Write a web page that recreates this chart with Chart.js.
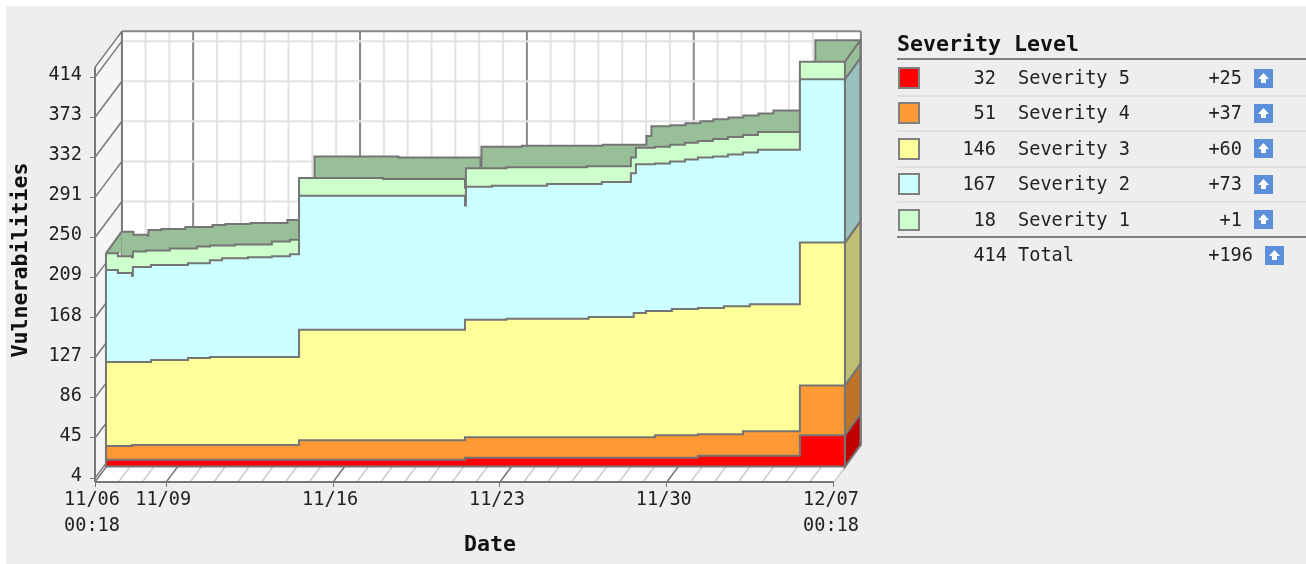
<!DOCTYPE html>
<html>
<head>
<meta charset="utf-8">
<title>Vulnerabilities</title>
<script src="https://cdn.jsdelivr.net/npm/chart.js@4/dist/chart.umd.min.js"></script>
<style>
    html, body { margin: 0; padding: 0; background: #fff; overflow: hidden; }
    #panel { position: absolute; left: 6px; top: 6px; width: 1300px; height: 558px; background: #eeeeee; }
    #grafica { position: absolute; left: 0; top: 0; }
    .txt { position: absolute; font-family: "DejaVu Sans Mono", monospace; font-size: 18.6px; color: #222; white-space: pre; line-height: 24px; }
    .linea { position: absolute; left: 897px; width: 409px; }
    .caja { position: absolute; left: 898px; width: 18px; height: 18px; border: 2px solid #808080; }
    .icono { position: absolute; width: 19px; height: 19px; }
</style>
</head>
<body>
<div id="panel"></div>
<canvas id="grafica" width="1306" height="564"></canvas>
<div id="leyenda"></div>
<script>
// days since 11/06 00:18, tops of the stacked layers
const sev5Days = [0, 15.06, 24.83, 29.11, 31];
const sev5Top = [7, 9, 11, 32, 32];
const sev4Days = [0, 1.09, 8.1, 15.06, 23.03, 24.83, 26.72, 29.11, 31];
const sev4Top = [21, 22, 27, 30, 32, 33, 36, 83, 83];
const sev3Days = [0, 1.89, 3.44, 4.36, 8.1, 15.06, 16.8, 20.25, 22.14, 22.65, 23.74, 24.83, 25.92, 27.01, 29.11, 31];
const sev3Top = [107, 109, 111, 112, 140, 150, 151, 153, 157, 159, 161, 162, 164, 166, 229, 229];
const sev2Days = [0, 0.5, 1.09, 1.13, 1.89, 3.44, 4.36, 4.87, 5.96, 6.96, 7.72, 8.1, 15.06, 15.1, 16.19, 18.5, 20.8, 22.02, 22.23, 23.03, 23.66, 24.29, 24.83, 25.46, 26.09, 26.72, 27.35, 29.11, 31];
const sev2Top = [201, 198, 195, 204, 206, 208, 211, 213, 214, 215, 217, 277, 267, 286, 287, 289, 291, 300, 309, 310, 312, 314, 316, 317, 319, 321, 324, 396, 396];
const sev1Days = [0, 0.5, 1.09, 1.13, 1.68, 2.68, 3.82, 4.36, 5.41, 6.96, 7.72, 8.1, 11.62, 15.06, 15.1, 16.8, 20.18, 22.02, 22.23, 23.03, 23.66, 24.29, 24.83, 25.46, 26.09, 26.72, 27.35, 29.11, 31];
const sev1Top = [218, 215, 214, 220, 221, 223, 225, 226, 227, 230, 232, 295, 294, 285, 305, 306, 307, 316, 326, 327, 329, 331, 333, 335, 337, 339, 342, 414, 414];

const yTicks = [4, 45, 86, 127, 168, 209, 250, 291, 332, 373, 414];
const xTicks = [0, 2.9875, 9.9875, 16.9875, 23.9875, 31];
const xLabels = [['11/06', '00:18'], '11/09', '11/16', '11/23', '11/30', ['12/07', '00:18']];
const dayLines = [0, 0.9875, 1.9875, 2.9875, 3.9875, 4.9875, 5.9875, 6.9875, 7.9875, 8.9875, 9.9875, 10.9875, 11.9875, 12.9875, 13.9875, 14.9875, 15.9875, 16.9875, 17.9875, 18.9875, 19.9875, 20.9875, 21.9875, 22.9875, 23.9875, 24.9875, 25.9875, 26.9875, 27.9875, 28.9875, 29.9875, 31];

const names = ['Severity 5', 'Severity 4', 'Severity 3', 'Severity 2', 'Severity 1'];
const counts = [32, 51, 146, 167, 18];
const deltas = ['+25', '+37', '+60', '+73', '+1'];
const colores = ['#ff0000', '#ff9933', '#ffff99', '#ccffff', '#ccffcc'];
const lados = ['#c00000', '#bf7326', '#bfbf73', '#99bfbf', '#99bf99'];

const fuente = '"DejaVu Sans Mono", monospace';
const gris = '#757575';
// depth of the fake 3D, in data units
const frontDx = 0.46, frontDy = 15.8;
const backDx = 0.65, backDy = 22;
const wallDx = 1.13, wallDy = 36.8;
const axisTop = 424;

function puntos(dias, tops, dx, dy) {
    return dias.map((d, i) => ({ x: d + dx, y: tops[i] + dy }));
}

function capa(dias, tops, color, dx, dy) {
    return {
        data: puntos(dias, tops, dx, dy),
        stepped: true,
        fill: { value: dy },
        backgroundColor: color,
        borderColor: gris,
        borderWidth: 2,
        pointRadius: 0,
        clip: false
    };
}

const plano = {
    id: 'plano',
    beforeDatasetsDraw(chart) {
        const ctx = chart.ctx;
        const X = chart.scales.x, Y = chart.scales.y;
        const px = (d, v) => [X.getPixelForValue(d), Y.getPixelForValue(v)];
        const poli = (pts, fill, stroke, w) => {
            ctx.beginPath();
            pts.forEach((p, i) => i ? ctx.lineTo(p[0], p[1]) : ctx.moveTo(p[0], p[1]));
            ctx.closePath();
            if (fill) { ctx.fillStyle = fill; ctx.fill(); }
            if (stroke) { ctx.strokeStyle = stroke; ctx.lineWidth = w; ctx.stroke(); }
        };
        const raya = (a, b, color, w) => {
            ctx.beginPath();
            ctx.moveTo(a[0], a[1]);
            ctx.lineTo(b[0], b[1]);
            ctx.strokeStyle = color;
            ctx.lineWidth = w;
            ctx.stroke();
        };
        // walls and floor
        poli([px(0, 0), px(wallDx, wallDy), px(wallDx, axisTop + wallDy), px(0, axisTop)], '#f5f5f5');
        poli([px(wallDx, wallDy), px(31 + wallDx, wallDy), px(31 + wallDx, axisTop + wallDy), px(wallDx, axisTop + wallDy)], '#ffffff');
        poli([px(0, 0), px(31, 0), px(31 + wallDx, wallDy), px(wallDx, wallDy)], '#ffffff');
        // day lines on floor and back wall, weekly ones darker
        dayLines.forEach(d => {
            const fuerte = xTicks.includes(d) && d !== 31;
            raya(px(d, 0), px(d + wallDx, wallDy), fuerte ? '#777777' : '#cccccc', 1.5);
            if (d > 0 && d < 31) raya(px(d + wallDx, wallDy), px(d + wallDx, axisTop + wallDy), fuerte ? '#888888' : '#e2e2e2', 2);
        });
        yTicks.forEach(v => {
            raya(px(wallDx, v + wallDy), px(31 + wallDx, v + wallDy), '#e2e2e2', 2);
            raya(px(0, v), px(wallDx, v + wallDy), '#777777', 1.5);
        });
        // top and outer edges of the box
        raya(px(0, axisTop), px(wallDx, axisTop + wallDy), '#777777', 1.5);
        raya(px(wallDx, axisTop + wallDy), px(31 + wallDx, axisTop + wallDy), '#888888', 2);
        raya(px(wallDx, wallDy), px(wallDx, axisTop + wallDy), '#777777', 2);
        raya(px(31 + wallDx, wallDy), px(31 + wallDx, axisTop + wallDy), '#888888', 2);
        raya(px(0, 0), px(0, axisTop), '#777777', 2);
        raya(px(0, 0), px(31, 0), '#777777', 2);
        // top face at the left end of the total
        const d0 = frontDx, v0 = sev1Top[0] + frontDy;
        poli([px(d0, v0), px(d0 + backDx, v0 + backDy), px(d0 + backDx, v0)], lados[4]);
        raya(px(d0, v0), px(d0 + backDx, v0 + backDy), gris, 2);
    },
    afterDatasetsDraw(chart) {
        const ctx = chart.ctx;
        const X = chart.scales.x, Y = chart.scales.y;
        const px = (d, v) => [X.getPixelForValue(d), Y.getPixelForValue(v)];
        const fin = 31 + frontDx;
        const finales = [0, sev5Top[sev5Top.length - 1], sev4Top[sev4Top.length - 1], sev3Top[sev3Top.length - 1], sev2Top[sev2Top.length - 1], sev1Top[sev1Top.length - 1]];
        ctx.lineWidth = 2;
        ctx.strokeStyle = gris;
        // side faces on the right
        for (let i = 0; i < 5; i++) {
            const a = finales[i] + frontDy, b = finales[i + 1] + frontDy;
            const pts = [px(fin, a), px(fin + backDx, a + backDy), px(fin + backDx, b + backDy), px(fin, b)];
            ctx.beginPath();
            pts.forEach((p, j) => j ? ctx.lineTo(p[0], p[1]) : ctx.moveTo(p[0], p[1]));
            ctx.closePath();
            ctx.fillStyle = lados[i];
            ctx.fill();
            ctx.stroke();
        }
        // frame of the front plane
        const marco = [px(frontDx, sev1Top[0] + frontDy), px(frontDx, frontDy), px(fin, frontDy), px(fin, finales[5] + frontDy)];
        ctx.beginPath();
        marco.forEach((p, j) => j ? ctx.lineTo(p[0], p[1]) : ctx.moveTo(p[0], p[1]));
        ctx.stroke();
    }
};

new Chart(document.getElementById('grafica'), {
    type: 'line',
    data: {
        datasets: [
            capa(sev5Days, sev5Top, colores[0], frontDx, frontDy),
            capa(sev4Days, sev4Top, colores[1], frontDx, frontDy),
            capa(sev3Days, sev3Top, colores[2], frontDx, frontDy),
            capa(sev2Days, sev2Top, colores[3], frontDx, frontDy),
            capa(sev1Days, sev1Top, colores[4], frontDx, frontDy),
            capa(sev1Days, sev1Top, lados[4], frontDx + backDx, frontDy + backDy)
        ]
    },
    options: {
        responsive: false,
        animation: false,
        layout: { padding: { left: 0, top: 38, right: 421, bottom: 0 } },
        plugins: { legend: { display: false }, tooltip: { enabled: false } },
        scales: {
            x: {
                type: 'linear',
                min: 0,
                max: 33.14,
                afterBuildTicks: s => { s.ticks = xTicks.map(v => ({ value: v })); },
                afterFit: s => { s.height = 82; },
                grid: { drawOnChartArea: false, tickLength: 5, color: '#777777' },
                border: { display: false },
                ticks: {
                    autoSkip: false,
                    maxRotation: 0,
                    padding: 0,
                    labelOffset: -3,
                    color: '#222',
                    font: { family: fuente, size: 18.6, lineHeight: 1.4 },
                    callback: v => xLabels[xTicks.indexOf(v)]
                },
                title: {
                    display: true,
                    text: 'Date',
                    color: '#111',
                    font: { family: fuente, size: 21.6, weight: 'bold' },
                    padding: { top: 0, bottom: 6 }
                }
            },
            y: {
                min: 0,
                max: 454,
                afterBuildTicks: s => { s.ticks = yTicks.map(v => ({ value: v })); },
                afterFit: s => { s.width = 95; },
                grid: { drawOnChartArea: false, tickLength: 5, color: '#777777' },
                border: { display: false },
                ticks: {
                    autoSkip: false,
                    padding: 8,
                    labelOffset: -2,
                    color: '#222',
                    font: { family: fuente, size: 18.6 },
                    callback: v => String(v)
                },
                title: {
                    display: true,
                    text: 'Vulnerabilities',
                    color: '#111',
                    font: { family: fuente, size: 21.6, weight: 'bold' },
                    padding: { top: 8, bottom: 0 }
                }
            }
        }
    },
    plugins: [plano]
});

// severity table on the right
const leyenda = document.getElementById('leyenda');
function pon(html) {
    leyenda.insertAdjacentHTML('beforeend', html);
}
function flecha(x, y) {
    pon('<svg class="icono" style="left:' + x + 'px;top:' + y + 'px" viewBox="0 0 19 19"><rect width="19" height="19" fill="#5b8fd9"/><path d="M9.5 4 L15 10 L12 10 L12 14 L7 14 L7 10 L4 10 Z" fill="#fff"/></svg>');
}
pon('<div class="txt" style="left:897px;top:32px;font-weight:bold;font-size:21.6px;color:#111">Severity Level</div>');
pon('<div class="linea" style="top:58px;height:2px;background:#808080"></div>');
names.forEach((n, i) => {
    const cy = 78 + i * 35.4;
    pon('<div class="caja" style="top:' + (cy - 11) + 'px;background:' + colores[i] + '"></div>');
    pon('<div class="txt" style="right:' + (1306 - 996) + 'px;top:' + (cy - 12) + 'px">' + counts[i] + '</div>');
    pon('<div class="txt" style="left:1018px;top:' + (cy - 12) + 'px">' + n + '</div>');
    pon('<div class="txt" style="right:' + (1306 - 1242) + 'px;top:' + (cy - 12) + 'px">' + deltas[i] + '</div>');
    flecha(1254, cy - 9.5);
    if (i < 4) pon('<div class="linea" style="top:' + (cy + 17) + 'px;height:2px;background:#e0e0e0"></div>');
});
pon('<div class="linea" style="top:236px;height:2px;background:#808080"></div>');
pon('<div class="txt" style="right:' + (1306 - 1007) + 'px;top:243px">414</div>');
pon('<div class="txt" style="left:1018px;top:243px">Total</div>');
pon('<div class="txt" style="right:' + (1306 - 1253) + 'px;top:243px">+196</div>');
flecha(1265, 245.5);
</script>
</body>
</html>
